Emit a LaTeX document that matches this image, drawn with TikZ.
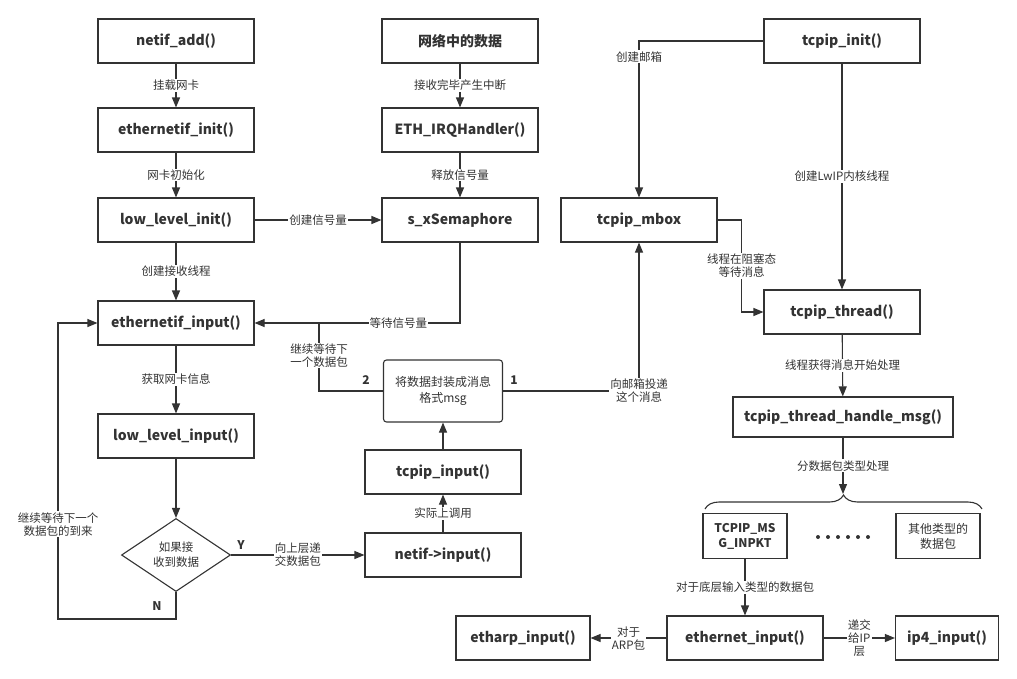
\documentclass[tikz,border=0pt]{standalone}
\usepackage{fontspec}
\setmainfont{Noto Sans CJK SC}
\usetikzlibrary{arrows.meta,shapes.geometric,decorations.pathreplacing}
\definecolor{ink}{HTML}{333333}

\begin{document}
\begin{tikzpicture}[x=1pt,y=-1pt,line width=1.1pt,color=ink,
  box/.style={draw,rectangle,minimum width=156pt,minimum height=44pt,inner sep=0pt,font=\fontsize{14}{16}\selectfont\bfseries},
  sbox/.style={draw,rectangle,minimum width=84pt,minimum height=45pt,inner sep=0pt,align=center,font=\fontsize{12}{15}\selectfont},
  msgbox/.style={draw,rectangle,rounded corners=3pt,minimum width=119pt,minimum height=62pt,align=center,font=\fontsize{12}{16}\selectfont},
  dia/.style={draw,diamond,aspect=1.5,minimum width=109pt,minimum height=73pt,inner sep=0pt,align=center,font=\fontsize{11.5}{15}\selectfont},
  lbl/.style={fill=white,inner sep=1pt,align=center,font=\fontsize{11.5}{13}\selectfont},
  tag/.style={inner sep=0pt,font=\fontsize{12}{14}\selectfont\bfseries},
  arr/.style={-{Triangle[length=10pt,width=8pt]}}]
\useasboundingbox (0,0) rectangle (1017,678);
% left column
\node[box] (nadd) at (176,41) {netif\_add()};
\node[box] (einit) at (176,130) {ethernetif\_init()};
\node[box] (llinit) at (176,220) {low\_level\_init()};
\node[box] (ein) at (176,323) {ethernetif\_input()};
\node[box] (llin) at (176,436) {low\_level\_input()};
\node[dia] (recv) at (176,555) {如果接\\收到数据};
% middle column
\node[box] (netdata) at (460,41) {网络中的数据};
\node[box] (irq) at (460,130) {ETH\_IRQHandler()};
\node[box] (sem) at (460,220) {s\_xSemaphore};
\node[msgbox] (msg) at (443,391) {将数据封装成消息\\格式msg};
\node[box] (tin) at (443,472) {tcpip\_input()};
\node[box] (nin) at (443,555) {netif->input()};
% right column
\node[box] (tinit) at (842,41) {tcpip\_init()};
\node[box] (mbox) at (639,220) {tcpip\_mbox};
\node[box] (thr) at (842,312) {tcpip\_thread()};
\node[box,minimum width=220pt,minimum height=40pt] (hmsg) at (843,417) {tcpip\_thread\_handle\_msg()};
\node[sbox,font=\fontsize{12}{15}\selectfont\bfseries] (inpkt) at (745,536) {TCPIP\_MS\\G\_INPKT};
\node[sbox] (other) at (938,536) {其他类型的\\数据包};
\node[box] (ethn) at (745,638) {ethernet\_input()};
\node[box,minimum width=134pt] (arp) at (523,638) {etharp\_input()};
\node[box,minimum width=103pt] (ip4) at (947,638) {ip4\_input()};
\foreach \i in {0,...,5}
  \fill (818+\i*10,537) circle (2);
% tags
\node[tag] (ylbl) at (241,545) {Y};
\node[tag] (nlbl) at (157,606) {N};
\node[tag] (two) at (366,380) {2};
\node[tag] (one) at (514,380) {1};
\coordinate (wait2) at (319,323);
\coordinate (loopc) at (58,619);
\coordinate (brtip) at (843,494);
% connectors
\draw[arr] (nadd) -- node[lbl]{挂载网卡} (einit);
\draw[arr] (einit) -- node[lbl]{网卡初始化} (llinit);
\draw[arr] (llinit) -- node[lbl]{创建接收线程} (ein);
\draw[arr] (ein) -- node[lbl]{获取网卡信息} (llin);
\draw[arr] (llin) -- (recv);
\draw[arr] (netdata) -- node[lbl]{接收完毕产生中断} (irq);
\draw[arr] (irq) -- node[lbl]{释放信号量} (sem);
\draw[arr] (llinit) -- node[lbl]{创建信号量} (sem);
\draw[arr] (sem) |- node[lbl,pos=0.65]{等待信号量} (ein);
\draw (msg) -| node[lbl,pos=0.76]{继续等待下\\一个数据包} (wait2);
\draw[arr] (msg) -| node[lbl]{向邮箱投递\\这个消息} (mbox);
\draw[arr] (tin) -- (msg);
\draw[arr] (nin) -- node[lbl]{实际上调用} (tin);
\draw[arr] (recv) -- node[lbl]{向上层递\\交数据包} (nin);
\draw[arr] (recv) |- (loopc) |- node[lbl,pos=0.16]{继续等待下一个\\数据包的到来} (ein);
\draw[arr] (tinit) -| node[lbl,pos=0.55]{创建邮箱} (mbox);
\draw[arr] (tinit) -- node[lbl]{创建LwIP内核线程} (thr);
\draw[arr] (mbox.east) -- ++(24,0) |- node[lbl,pos=0.25]{线程在阻塞态\\等待消息} (thr);
\draw[arr] (thr) -- node[lbl]{线程获得消息开始处理} (hmsg);
\draw[arr] (hmsg) -- node[lbl]{分数据包类型处理} (brtip);
\draw[decorate,decoration={brace,amplitude=14pt}] (705,509) -- (982,509);
\draw[arr] (inpkt) -- node[lbl]{对于底层输入类型的数据包} (ethn);
\draw[arr] (ethn) -- node[lbl]{对于\\ARP包} (arp);
\draw[arr] (ethn) -- node[lbl]{递交\\给IP\\层} (ip4);
\end{tikzpicture}
\end{document}
